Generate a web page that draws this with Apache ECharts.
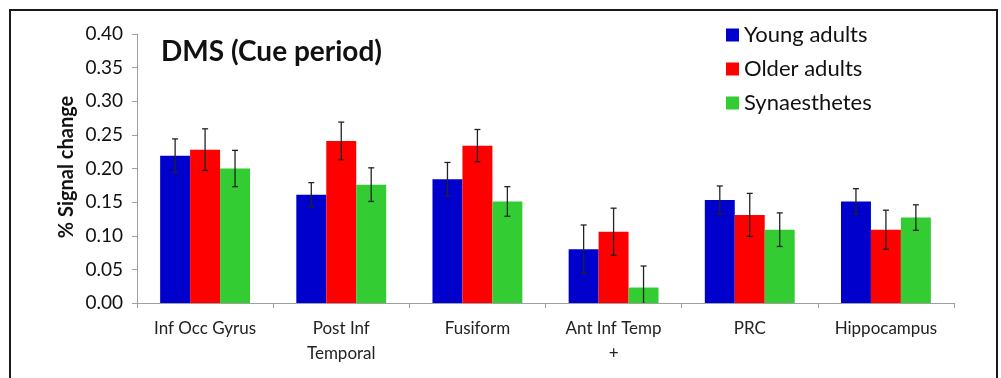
<!DOCTYPE html>
<html>
<head>
<meta charset="utf-8">
<script src="https://cdn.jsdelivr.net/npm/echarts@6/dist/echarts.min.js"></script>
<style>
html,body{margin:0;padding:0;background:#fff;}
#chart{width:1001px;height:378px;}
</style>
</head>
<body>
<div id="chart"></div>
<script>
const categories = ['Inf Occ Gyrus', 'Post Inf\nTemporal', 'Fusiform', 'Ant Inf Temp\n+', 'PRC', 'Hippocampus'];
const seriesNames = ['Young adults', 'Older adults', 'Synaesthetes'];
const youngValues = [0.219, 0.161, 0.184, 0.080, 0.153, 0.151];
const youngErrors = [0.025, 0.018, 0.025, 0.036, 0.021, 0.019];
const olderValues = [0.228, 0.241, 0.234, 0.106, 0.131, 0.109];
const olderErrors = [0.031, 0.028, 0.024, 0.035, 0.032, 0.029];
const synValues = [0.200, 0.176, 0.151, 0.023, 0.109, 0.127];
const synErrors = [0.027, 0.025, 0.022, 0.032, 0.025, 0.019];
const yTicks = [0.00, 0.05, 0.10, 0.15, 0.20, 0.25, 0.30, 0.35, 0.40];

const colors = ['#0000CC', '#FF0000', '#33CC33'];
const FONT = 'Lato';
const GAP = 0.34;

const valueSets = [youngValues, olderValues, synValues];
const errorSets = [youngErrors, olderErrors, synErrors];

function errorSeries(idx) {
  const data = valueSets[idx].map((v, i) => [i, v, errorSets[idx][i]]);
  return {
    type: 'custom',
    name: seriesNames[idx] + ' error',
    data: data,
    z: 10,
    clip: true,
    renderItem: function (params, api) {
      const ci = api.value(0);
      const val = api.value(1);
      const err = api.value(2);
      const band = api.size([1, 0])[0];
      const bw = band * (1 - GAP) / 3;
      const c = api.coord([ci, val]);
      const x = c[0] + (idx - 1) * bw;
      const top = api.coord([ci, val + err])[1];
      const bot = api.coord([ci, val - err])[1];
      const capHalf = 3;
      const st = { stroke: '#222', lineWidth: 1.3 };
      return {
        type: 'group',
        children: [
          { type: 'line', shape: { x1: x, y1: top, x2: x, y2: bot }, style: st },
          { type: 'line', shape: { x1: x - capHalf, y1: top, x2: x + capHalf, y2: top }, style: st },
          { type: 'line', shape: { x1: x - capHalf, y1: bot, x2: x + capHalf, y2: bot }, style: st }
        ]
      };
    }
  };
}

const chart = echarts.init(document.getElementById('chart'), null, { renderer: 'canvas' });
chart.setOption({
  animation: false,
  backgroundColor: '#fff',
  title: {
    text: 'DMS (Cue period)',
    left: 161,
    top: 38,
    padding: 0,
    textStyle: { fontFamily: FONT, fontWeight: 'bold', fontSize: 28, lineHeight: 28, color: '#111' }
  },
  legend: {
    orient: 'vertical',
    left: 726,
    top: 24,
    padding: 0,
    itemWidth: 13,
    itemHeight: 13,
    itemGap: 12,
    icon: 'rect',
    data: seriesNames,
    textStyle: { fontFamily: FONT, fontSize: 22, lineHeight: 22, color: '#111' }
  },
  grid: { left: 137, right: 47, top: 34, bottom: 75, containLabel: false },
  xAxis: {
    type: 'category',
    data: categories,
    axisLine: { lineStyle: { color: '#a0a0a0', width: 1 } },
    axisTick: { show: true, length: 5, lineStyle: { color: '#a0a0a0' } },
    axisLabel: { fontFamily: FONT, fontSize: 17, color: '#222', margin: 13, lineHeight: 25, interval: 0 }
  },
  yAxis: {
    type: 'value',
    min: 0,
    max: 0.4,
    interval: 0.05,
    axisLine: { show: true, lineStyle: { color: '#a0a0a0', width: 1 } },
    axisTick: { show: true, length: 5, lineStyle: { color: '#a0a0a0' } },
    splitLine: { show: false },
    axisLabel: { fontFamily: FONT, fontSize: 19, color: '#111', margin: 14, formatter: v => v.toFixed(2) }
  },
  graphic: [
    {
      type: 'rect',
      shape: { x: 10, y: 10, width: 987, height: 420 },
      style: { fill: 'none', stroke: '#1a1a1a', lineWidth: 2 },
      z: 100
    },
    {
      type: 'text',
      x: 67,
      y: 167,
      rotation: Math.PI / 2,
      style: { text: '% Signal change', fontFamily: FONT, fontWeight: 'bold', fontSize: 20, fill: '#111', align: 'center', verticalAlign: 'middle' }
    }
  ],
  series: [
    { type: 'bar', name: seriesNames[0], data: youngValues, itemStyle: { color: colors[0] }, barGap: '0%', barCategoryGap: (GAP * 100) + '%' },
    { type: 'bar', name: seriesNames[1], data: olderValues, itemStyle: { color: colors[1] }, barGap: '0%', barCategoryGap: (GAP * 100) + '%' },
    { type: 'bar', name: seriesNames[2], data: synValues, itemStyle: { color: colors[2] }, barGap: '0%', barCategoryGap: (GAP * 100) + '%' },
    errorSeries(0),
    errorSeries(1),
    errorSeries(2)
  ]
});
</script>
</body>
</html>
